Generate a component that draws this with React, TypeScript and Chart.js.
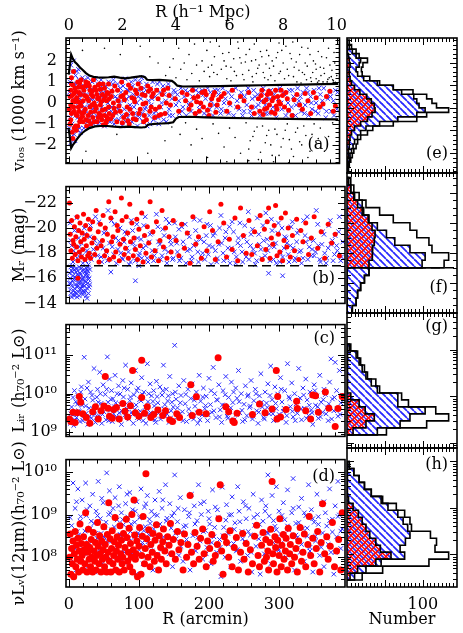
import React, { useEffect, useRef } from "react";
import { Chart, registerables } from "chart.js";

Chart.register(...registerables);

type P = [number, number];

/* ---------------- shared axis values ---------------- */
const X_MIN = -4; // arcmin
const X_MAX = 394;
const ARCMIN_PER_MPC = 39;
const N_MAX = 145;
const arcminTicks = [0, 100, 200, 300];
const mpcTicks = [0, 2, 4, 6, 8, 10];
const numberTicks = [100];

/* ---------------- panel (a): v_los vs R ---------------- */
const vTicks = [-2, -1, 0, 1, 2];
const aEnvUpper: P[] = [[0,1.35],[2,1.9],[3.5,2.3],[6,2.1],[9,1.95],[12,1.85],[16,1.7],[20,1.58],[25,1.42],[30,1.3],[36,1.24],[42,1.22],[50,1.2],[58,1.22],[66,1.25],[74,1.2],[82,1.17],[90,1.2],[98,1.24],[106,1.27],[111,1.22],[114,1.1],[122,1.08],[132,1.1],[142,1.07],[150,1.05],[154,0.95],[158,0.82],[166,0.78],[190,0.79],[220,0.8],[250,0.82],[280,0.84],[310,0.86],[340,0.87],[370,0.89],[392,0.91]];
const aEnvLower: P[] = [[0,-1.25],[2,-1.75],[3.5,-2.15],[6,-2.0],[9,-1.88],[12,-1.72],[16,-1.55],[20,-1.42],[25,-1.3],[30,-1.2],[38,-1.12],[46,-1.1],[56,-1.1],[66,-1.13],[76,-1.15],[86,-1.13],[96,-1.15],[106,-1.17],[112,-1.15],[115,-1.04],[125,-1.0],[135,-0.98],[145,-0.96],[152,-0.92],[156,-0.75],[160,-0.67],[175,-0.66],[200,-0.69],[230,-0.71],[260,-0.73],[290,-0.75],[320,-0.76],[350,-0.77],[392,-0.78]];
const aRed: P[] = [[2,.3],[3,-.8],[4,.9],[5,-1.4],[6,.1],[7,1.5],[8,-.4],[9,.7],[10,-1.1],[11,.2],[12,-.6],[13,1.0],[14,-.2],[15,.5],[16,-.9],[17,0],[18,1.1],[19,-.5],[3,-.1],[6,-1.7],[4,1.2],[8,.45],[11,-1.3],[14,.75],[17,-.75],[21,-.9],[22,.6],[24,-.3],[25,1.0],[26,-1.1],[27,.2],[28,-.6],[30,.8],[31,-.2],[32,-1.0],[33,.4],[35,-.7],[36,1.1],[37,0],[38,-.4],[40,.6],[41,-.9],[42,.2],[44,-.5],[45,.9],[46,-.1],[48,-.8],[49,.4],[50,-1.05],[52,.7],[53,-.3],[55,.1],[56,-.7],[58,.9],[59,-.5],[23,.35],[29,-.85],[34,.55],[39,-.15],[43,.85],[47,-.6],[51,.15],[54,-.95],[57,.45],[62,.3],[64,-.6],[67,.8],[70,-.9],[72,.1],[75,-.4],[77,1.0],[80,-.7],[83,.5],[85,-.2],[88,-1.0],[90,.7],[93,-.5],[95,.2],[98,-.8],[101,.9],[104,-.3],[107,.4],[110,-.6],[112,0],[115,.8],[118,-.4],[121,.3],[125,-.7],[128,.6],[132,-.2],[136,.4],[140,-.5],[144,.7],[148,-.1],[66,-.25],[79,.35],[86,-.85],[97,.6],[109,-.9],[119,.65],[131,-.6],[155,.2],[160,-.4],[165,.5],[170,.1],[175,-.3],[180,.6],[184,-.5],[188,.3],[192,0],[196,-.2],[200,.4],[204,-.6],[208,.2],[212,.5],[216,-.1],[222,.3],[230,-.4],[238,.6],[246,-.2],[255,.1],[262,.5],[270,-.5],[276,.2],[281,.6],[285,-.3],[289,.4],[292,-.1],[296,.1],[300,-.5],[304,.3],[309,.6],[314,-.2],[318,.2],[325,-.6],[332,.4],[340,-.3],[348,.1],[356,.5],[365,-.2],[375,.3],[385,-.4],[186,.05],[198,.55],[202,-.35],[283,-.55],[287,.15],[294,.45],[302,-.15],[306,.05],[1,-.3],[2,-1.0],[3,.6],[4,-.5],[5,.35],[6,.85],[7,-.2],[8,-1.2],[9,.05],[10,.55],[11,-.55],[12,.25],[13,-1.1],[14,.05],[15,-.4],[16,.95],[17,.4],[18,-.15],[19,.75],[20,-.65],[21,.1],[22,-.45],[24,.8],[25,-.8],[26,.3],[28,.95],[29,.1],[31,.6],[32,-.45],[34,-.1],[35,.3],[37,-.9],[38,.75],[40,-.25],[41,.4],[43,-.7],[44,.25],[46,.65],[47,.05],[49,-.35],[50,.9],[52,-.6],[53,.3],[55,-.85],[56,.5],[58,-.2],[59,.2],[61,-.75],[63,.55],[65,0],[68,-.45],[71,.6],[73,-.15],[76,.3],[78,-.95],[81,.15],[84,-.55],[87,.85],[89,-.3],[92,.25],[94,-.75],[96,.05],[99,.45],[102,-.5],[105,.7],[108,-.05],[111,.35],[113,-.8],[116,.55],[120,-.2],[123,.45],[126,-.3],[130,.2],[134,-.55],[138,.6],[142,0],[146,.35],[172,.4],[178,-.1],[182,.25],[190,-.4],[194,.5],[206,-.1],[210,.35],[214,-.45],[218,.15],[226,.45],[234,0],[250,.3],[266,-.2],[278,-.4],[280,.35],[284,.05],[288,-.25],[291,.55],[295,-.45],[298,.25],[301,.6],[303,-.3],[308,-.05],[311,.35],[316,.5],[320,-.35],[328,.15],[336,-.1],[344,.45],[352,-.5],[360,.25],[370,-.05],[380,.55],[388,-.15]];
const aBlue: P[] = [[1,-1.2],[2,1.0],[3,1.8],[4,-1.6],[5,.6],[6,-.5],[7,2.0],[8,.9],[9,-1.8],[10,1.3],[11,-.2],[12,-1.3],[13,.4],[14,1.6],[15,-.8],[16,.2],[17,-1.4],[18,.8],[19,-.1],[20,1.2],[21,.4],[22,-1.2],[23,1.1],[24,-.5],[26,.7],[27,-.9],[28,1.2],[29,-.1],[30,-1.1],[31,.5],[33,-.6],[34,1.0],[35,.2],[36,-1.0],[37,.6],[38,-.2],[39,1.15],[40,-.6],[42,.9],[43,-1.0],[44,.1],[45,-.4],[47,1.1],[48,.3],[49,-.7],[51,.5],[52,-1.1],[54,.8],[55,-.4],[57,0],[58,1.0],[60,-.9],[61,.6],[63,-.2],[65,1.1],[66,-1.0],[68,.3],[69,-.5],[71,.9],[73,-.8],[74,0],[76,.5],[78,-1.1],[79,.8],[81,-.3],[82,1.15],[84,.2],[86,-.7],[87,.6],[89,-.1],[91,1.0],[92,-.9],[94,.4],[96,-.5],[97,1.1],[99,0],[100,-1.1],[102,.6],[103,-.7],[105,.2],[106,1.2],[108,-.9],[109,.5],[111,-.3],[113,.9],[114,-1.1],[116,.1],[117,-.6],[119,.7],[120,-.1],[122,1.0],[123,-.8],[126,.3],[127,-.4],[129,.9],[131,-1.0],[133,.5],[134,-.2],[137,.8],[138,-.8],[141,.1],[143,-.5],[145,.9],[146,-.3],[149,.4],[151,-.6],[153,.6],[156,-.1],[158,.4],[161,-.5],[163,.7],[166,-.2],[168,.3],[171,-.6],[173,.5],[176,0],[178,-.4],[181,.7],[183,.2],[186,-.6],[189,.5],[191,-.1],[194,.6],[197,-.5],[199,.2],[202,.7],[205,-.3],[207,.1],[210,-.6],[213,.6],[215,-.2],[218,.4],[221,-.5],[224,.7],[226,0],[229,-.4],[232,.5],[235,-.1],[237,.3],[240,-.6],[243,.7],[245,.1],[248,-.3],[251,.5],[253,-.6],[256,.3],[259,-.1],[261,.7],[264,-.4],[267,.2],[269,.6],[272,-.2],[275,.4],[278,-.6],[280,.1],[283,.7],[286,-.1],[288,.3],[291,-.5],[294,.6],[297,-.2],[299,.4],[302,-.7],[305,.2],[307,.7],[310,-.3],[313,.5],[316,-.6],[319,0],[321,.6],[324,-.2],[327,.3],[330,-.6],[333,.7],[335,.1],[338,-.4],[341,.5],[344,-.1],[346,.7],[349,-.6],[352,.3],[354,-.3],[357,.6],[360,0],[363,-.5],[366,.4],[368,-.2],[371,.7],[374,-.7],[377,.2],[380,.5],[382,-.4],[385,.1],[388,.6],[390,-.3],[1,.5],[2,-.7],[3,-1.9],[4,.3],[5,-1.0],[6,1.5],[7,-.3],[8,-1.5],[9,.1],[10,-.6],[11,.9],[12,1.5],[13,-.7],[14,0],[15,1.1],[16,-1.2],[18,-.4],[19,.5],[21,-.6],[23,-.2],[25,.4],[27,.9],[29,-.5],[31,-.8],[32,.2],[34,-.3],[36,.6],[39,-.8],[41,.3],[44,-.9],[46,.5],[48,-.2],[50,.7],[53,.1],[56,-.6],[59,.4],[62,-.4],[64,.9],[67,-.8],[70,.2],[72,-.3],[75,.7],[77,-.6],[80,.1],[83,-.9],[85,.6],[88,.3],[90,-.5],[93,.8],[95,-.2],[98,-.7],[101,.3],[104,1.0],[107,-.5],[110,.7],[112,-.2],[115,.5],[118,-1.0],[121,.2],[124,-.5],[128,.6],[130,-.7],[132,1.0],[135,0],[139,.4],[142,-.9],[144,.7],[147,-.6],[150,.2],[155,.5],[160,.1],[165,-.4],[170,.6],[175,-.1],[180,.3],[185,.6],[190,-.3],[196,.4],[201,-.6],[206,.5],[212,-.1],[217,.6],[222,-.3],[228,.2],[233,-.5],[239,.6],[244,-.2],[250,.3],[255,-.4],[260,.5],[266,-.6],[271,.3],[276,-.1],[282,.5],[287,-.5],[293,.2],[298,-.4],[303,.6],[309,0],[314,.4],[320,-.4],[325,.6],[331,-.1],[337,.3],[343,-.5],[348,.5],[353,0],[359,-.4],[364,.7],[369,.1],[375,-.4],[381,.3],[386,-.6],[391,.5]];
const aBlack: P[] = [[20,2.5],[52,2.6],[75,2.3],[104,2.7],[118,2.2],[130,1.9],[141,1.3],[147,1.7],[152,2.1],[156,1.2],[160,2.6],[163,1.6],[168,1.9],[172,1.1],[175,2.3],[179,1.4],[183,2.8],[186,1.8],[190,1.05],[194,2.0],[197,1.5],[201,2.5],[205,1.25],[208,1.8],[212,2.2],[216,1.35],[219,2.7],[222,1.6],[226,2.0],[230,1.15],[233,2.4],[236,1.7],[240,2.1],[244,1.3],[247,2.6],[251,1.9],[255,1.1],[258,2.3],[262,1.55],[266,2.0],[270,2.8],[273,1.4],[277,1.8],[281,2.2],[285,1.2],[288,2.5],[292,1.65],[296,2.0],[300,1.05],[304,2.4],[308,1.5],[312,1.9],[316,2.7],[320,1.3],[324,2.1],[328,1.7],[332,1.0],[336,2.3],[340,1.45],[344,1.9],[348,2.6],[352,1.2],[356,2.0],[360,1.6],[364,1.05],[368,2.2],[372,1.4],[376,1.0],[380,1.8],[384,1.1],[388,0.98],[382,1.25],[370,1.0],[360,1.15],[386,2.4],[378,2.6],[366,1.7],[346,1.1],[326,2.9],[306,2.85],[246,2.9],[206,2.9],[236,1.05],[268,1.0],[290,1.1],[203,1.7],[211,1.45],[224,2.35],[229,1.75],[241,1.5],[249,2.15],[253,1.35],[257,1.95],[263,2.55],[267,1.25],[272,2.05],[275,1.65],[279,2.45],[283,1.45],[287,1.85],[291,2.25],[294,1.3],[298,1.75],[302,2.15],[306,1.4],[310,2.5],[314,1.15],[318,1.6],[322,2.35],[327,1.25],[331,1.95],[335,1.55],[339,2.65],[343,1.35],[347,1.75],[351,2.3],[355,1.45],[359,1.85],[363,2.45],[367,1.3],[371,1.65],[375,2.15],[379,1.2],[383,1.55],[387,1.9],[390,1.3],[385,1.05],[377,1.12],[362,0.98],[353,1.02],[338,0.95],[25,-2.3],[70,-1.5],[115,-2.4],[140,-1.8],[150,-1.15],[162,-1.5],[170,-0.95],[178,-2.0],[186,-1.25],[194,-1.7],[202,-2.6],[210,-1.0],[218,-1.45],[226,-2.1],[234,-1.2],[242,-1.65],[250,-2.4],[258,-0.95],[264,-1.8],[270,-1.35],[276,-2.7],[282,-1.1],[288,-1.55],[294,-2.0],[300,-1.25],[306,-2.5],[312,-1.7],[318,-1.0],[324,-2.2],[330,-1.4],[336,-1.85],[342,-1.1],[348,-2.6],[354,-1.5],[360,-1.9],[366,-1.2],[372,-2.3],[378,-1.6],[384,-0.95],[298,-2.8],[262,-2.75],[320,-2.85],[230,-2.8],[262,-2.2],[268,-1.6],[274,-1.15],[279,-2.35],[286,-1.9],[291,-1.3],[296,-2.5],[303,-1.5],[309,-2.1],[315,-1.3],[321,-1.75],[327,-2.55],[333,-1.2],[339,-2.0],[345,-1.55],[351,-2.3],[357,-1.0],[363,-1.7]];

/* ---------------- panel (b): M_r vs R ---------------- */
const magTicks = [-22, -20, -18, -16, -14];
const magLimit = -17;
const bRed: P[] = [[1,-22.0],[2,-19.5],[3,-18.2],[4,-20.6],[5,-17.6],[6,-19.0],[7,-18.7],[8,-20.1],[9,-17.9],[10,-19.3],[11,-18.5],[12,-20.9],[13,-17.4],[14,-19.8],[15,-18.1],[16,-20.4],[17,-18.9],[18,-17.7],[19,-19.6],[20,-18.3],[21,-21.1],[22,-19.1],[23,-17.5],[24,-20.2],[25,-18.6],[26,-19.4],[27,-17.8],[28,-20.7],[29,-18.0],[30,-19.9],[13,-16.0],[31,-17.6],[33,-18.8],[34,-20.5],[36,-19.2],[37,-17.9],[39,-21.4],[40,-18.4],[42,-19.7],[43,-17.3],[45,-20.3],[46,-18.6],[48,-19.0],[49,-21.0],[51,-17.8],[52,-20.0],[54,-18.2],[55,-19.5],[57,-22.1],[58,-17.5],[60,-20.8],[61,-18.9],[63,-19.3],[64,-17.7],[66,-21.3],[67,-18.1],[69,-20.2],[70,-19.8],[72,-17.4],[73,-18.7],[75,-22.4],[76,-20.6],[78,-19.1],[79,-17.9],[81,-18.4],[82,-20.9],[84,-19.6],[85,-17.6],[87,-21.9],[88,-18.9],[90,-20.4],[92,-17.8],[93,-19.2],[95,-18.3],[97,-20.7],[98,-17.5],[100,-19.9],[102,-18.6],[104,-21.2],[106,-17.3],[108,-19.4],[110,-18.0],[112,-20.1],[114,-18.8],[116,-22.1],[118,-17.7],[120,-19.7],[123,-18.2],[125,-20.5],[128,-17.4],[130,-19.0],[133,-21.4],[135,-18.5],[138,-20.0],[140,-17.6],[143,-19.3],[146,-18.1],[149,-20.6],[153,-19.0],[157,-17.8],[161,-20.3],[165,-18.4],[169,-19.6],[173,-17.2],[177,-20.9],[181,-18.7],[185,-19.3],[189,-17.6],[193,-20.1],[197,-18.2],[201,-21.3],[205,-19.8],[209,-17.5],[213,-18.9],[217,-21.9],[221,-20.4],[225,-17.7],[229,-19.1],[233,-18.3],[237,-20.8],[241,-17.4],[245,-21.6],[249,-19.4],[253,-18.0],[257,-20.6],[261,-17.9],[265,-19.7],[269,-18.6],[273,-21.0],[276,-17.5],[279,-19.9],[281,-18.3],[283,-20.5],[285,-21.6],[287,-17.6],[289,-19.2],[291,-18.7],[293,-20.2],[295,-21.8],[297,-17.8],[299,-19.5],[301,-18.1],[303,-20.8],[305,-17.4],[307,-19.0],[309,-21.2],[311,-18.5],[313,-20.0],[316,-17.7],[319,-19.4],[322,-18.2],[325,-20.7],[328,-17.5],[331,-19.8],[334,-18.9],[338,-20.4],[342,-17.9],[346,-19.2],[350,-20.9],[355,-18.4],[360,-19.7],[365,-17.6],[370,-20.3],[375,-18.8],[380,-19.5],[386,-17.8]];
const bBlue: P[] = [[1,-16.4],[2,-15.1],[3,-16.9],[4,-14.5],[5,-15.8],[6,-16.2],[7,-15.0],[8,-16.7],[9,-15.5],[10,-14.8],[11,-16.0],[12,-15.3],[13,-16.6],[14,-14.9],[15,-15.7],[16,-16.4],[17,-15.2],[18,-16.8],[19,-15.9],[20,-14.7],[21,-16.1],[22,-15.4],[23,-16.5],[24,-15.0],[25,-16.3],[26,-14.4],[27,-15.6],[28,-16.9],[29,-15.3],[2,-16.0],[4,-15.4],[6,-16.8],[8,-14.6],[10,-15.9],[12,-16.3],[14,-15.6],[16,-15.1],[18,-14.9],[20,-16.0],[22,-16.7],[24,-15.7],[26,-15.2],[28,-14.8],[5,-17.0],[15,-16.9],[25,-16.8],[3,-15.6],[9,-16.1],[19,-15.4],[27,-16.2],[1,-15.6],[3,-14.8],[5,-16.5],[7,-15.9],[9,-14.9],[11,-16.8],[13,-15.4],[15,-14.6],[17,-16.3],[19,-16.6],[21,-15.0],[23,-15.8],[25,-14.6],[27,-16.6],[29,-16.0],[4,-16.6],[8,-15.2],[12,-14.5],[16,-16.0],[20,-15.5],[24,-16.2],[28,-15.9],[6,-14.7],[10,-16.5],[14,-16.2],[18,-15.7],[22,-14.9],[26,-16.4],[30,-15.5],[30,-16.7],[60,-16.5],[95,-15.8],[285,-16.4],[305,-16.2],[100,-17.0],[2,-20.4],[4,-18.6],[6,-17.3],[8,-19.8],[10,-18.0],[12,-17.6],[14,-19.2],[16,-17.9],[18,-18.8],[20,-17.2],[22,-20.0],[24,-17.4],[26,-18.2],[28,-17.1],[30,-19.3],[32,-17.5],[35,-18.3],[38,-20.9],[41,-17.8],[44,-18.9],[47,-17.3],[50,-19.6],[53,-18.1],[56,-21.4],[59,-17.6],[62,-18.5],[65,-20.3],[68,-17.2],[71,-19.0],[74,-18.0],[77,-17.5],[80,-19.7],[83,-18.4],[86,-17.1],[89,-20.6],[92,-18.8],[95,-17.4],[98,-19.2],[101,-18.0],[104,-17.6],[107,-20.2],[110,-18.6],[113,-17.3],[116,-19.5],[119,-18.2],[122,-17.8],[125,-21.1],[128,-18.9],[131,-17.5],[134,-19.9],[137,-18.3],[140,-17.2],[143,-20.4],[146,-18.7],[149,-17.6],[152,-19.3],[155,-18.1],[158,-17.4],[161,-20.1],[164,-18.5],[167,-17.2],[170,-19.6],[173,-18.3],[176,-17.7],[179,-20.7],[182,-18.9],[185,-17.3],[188,-19.1],[191,-18.0],[194,-17.5],[197,-20.3],[200,-18.6],[203,-17.1],[206,-19.4],[209,-18.2],[212,-17.6],[215,-20.0],[218,-18.8],[221,-17.4],[224,-19.7],[227,-18.4],[230,-17.2],[233,-20.5],[236,-18.1],[239,-17.7],[242,-19.2],[245,-18.6],[248,-17.3],[251,-20.2],[254,-18.9],[257,-17.5],[260,-19.5],[263,-18.3],[266,-17.1],[269,-20.8],[272,-18.7],[275,-17.6],[278,-19.0],[281,-21.2],[284,-18.2],[287,-17.4],[290,-19.8],[293,-18.5],[296,-17.2],[299,-20.4],[302,-18.0],[305,-17.7],[308,-19.3],[311,-18.8],[314,-17.3],[317,-20.1],[320,-18.4],[323,-17.6],[326,-19.6],[329,-18.1],[332,-17.2],[335,-20.6],[338,-18.9],[341,-17.5],[344,-19.1],[347,-18.3],[350,-17.8],[353,-21.4],[356,-18.6],[359,-17.3],[362,-19.7],[365,-18.0],[368,-17.6],[371,-20.2],[374,-18.7],[377,-17.4],[380,-19.4],[383,-18.2],[386,-20.9],[389,-17.7],[3,-19.0],[7,-18.2],[11,-20.8],[15,-18.5],[19,-17.8],[23,-19.5],[27,-18.0],[31,-20.2],[34,-17.9],[37,-19.0],[40,-18.6],[43,-20.5],[46,-17.7],[49,-18.4],[52,-19.9],[55,-17.4],[58,-18.8],[61,-20.6],[64,-17.9],[67,-19.2],[70,-18.3],[73,-20.0],[76,-17.6],[79,-18.9],[82,-19.5],[85,-18.1],[88,-17.3],[91,-19.8],[94,-18.5],[97,-20.3],[100,-17.8],[103,-19.1],[106,-18.4],[109,-20.9],[112,-17.6],[115,-18.9],[118,-19.6],[121,-17.4],[124,-18.2],[127,-20.1],[130,-18.7],[133,-17.8],[136,-19.4],[139,-20.7],[142,-18.1],[145,-19.0],[148,-17.5],[151,-20.4],[154,-18.8],[157,-19.9],[160,-17.6],[163,-18.9],[166,-20.3],[169,-18.2],[172,-19.3],[175,-17.4],[178,-18.6],[181,-19.8],[184,-18.1],[187,-20.6],[190,-17.7],[193,-18.9],[196,-19.4],[199,-17.9],[202,-20.2],[205,-18.5],[208,-19.6],[211,-17.3],[214,-18.7],[217,-21.0],[220,-18.0],[223,-19.2],[226,-17.6],[229,-20.1],[232,-18.4],[235,-19.7],[238,-17.2],[241,-18.8],[244,-20.4],[247,-18.1],[250,-19.3],[253,-17.7],[256,-21.3],[259,-18.6],[262,-19.9],[265,-18.0],[268,-17.4],[271,-19.5],[274,-18.3],[277,-20.2],[280,-17.8],[283,-19.1],[286,-18.6],[289,-20.7],[292,-17.5],[295,-18.8],[298,-19.6],[301,-17.3],[304,-20.0],[307,-18.4],[310,-19.2],[313,-17.9],[316,-18.6],[319,-20.5],[322,-17.4],[325,-18.9],[328,-19.8],[331,-18.2],[334,-17.6],[337,-19.4],[340,-20.9],[343,-18.5],[346,-17.8],[349,-19.0],[352,-18.1],[355,-20.3],[358,-17.5],[361,-18.7],[364,-19.5],[367,-17.2],[370,-18.4],[373,-20.6],[376,-19.0],[379,-17.9],[382,-18.6],[385,-19.7],[388,-17.4],[391,-18.9]];

/* ---------------- panel (c): L_IR (units of 1e9 L_sun) ---------------- */
const lirTicks = [1e9, 1e10, 1e11];
const cRed: P[] = [[1,2.2],[3,1.9],[6,3.3],[9,1.8],[12,3.2],[15,8.5],[17,6.0],[20,3.0],[25,2.4],[30,1.7],[34,3.4],[38,4.6],[42,2.2],[46,3.6],[50,4.8],[52,28],[56,4.2],[58,2.6],[62,2.3],[64,3.9],[68,4.4],[72,2.2],[77,5.6],[80,3.5],[84,2.5],[88,4.9],[91,40],[95,3.2],[100,2.6],[104,74],[104,8.0],[108,3.1],[112,4.6],[117,2.4],[121,2.9],[127,3.8],[134,2.7],[138,3.6],[144,2.1],[148,1.9],[154,3.0],[158,2.4],[174,17],[176,2.7],[182,8.3],[186,3.3],[196,3.0],[213,85],[224,4.6],[228,3.4],[234,1.95],[236,1.8],[240,3.1],[262,2.9],[272,5.4],[280,3.2],[290,4.0],[296,40],[298,8.4],[297,2.2],[302,2.5],[310,3.9],[325,6.4],[326,4.1],[338,3.6],[345,2.2],[348,9.3],[352,8.8],[356,3.3],[366,11],[371,4.2],[380,1.4],[384,4.1],[390,8.4]];
const cBlue: P[] = [[2,1.7],[4,4.5],[5,2.9],[7,1.5],[8,12],[10,6.2],[11,2.4],[13,9.0],[14,3.6],[16,1.9],[18,15],[19,5.0],[21,2.6],[22,88],[23,7.3],[25,3.1],[27,1.6],[28,20],[29,4.2],[31,11],[32,2.3],[34,6.8],[36,45],[37,3.0],[38,1.8],[40,8.1],[41,13],[43,2.7],[44,36],[46,5.6],[47,1.7],[49,17],[50,3.4],[52,9.6],[53,2.1],[55,90],[56,6.0],[58,24],[59,3.7],[61,12],[62,1.9],[63,7.4],[65,4.6],[66,30],[68,2.5],[69,10],[71,16],[72,3.2],[74,5.3],[75,1.6],[77,22],[78,8.2],[80,2.8],[81,55],[83,4.0],[84,13],[86,2.2],[87,6.6],[89,19],[90,3.3],[92,1.7],[93,9.4],[95,40],[96,5.1],[98,2.4],[99,14],[101,7.0],[102,3.5],[104,26],[106,2.0],[107,11],[109,4.4],[110,1.7],[112,60],[113,6.2],[115,3.0],[116,18],[118,8.8],[119,2.3],[121,12],[122,4.8],[124,1.8],[125,21],[127,5.8],[128,3.1],[130,15],[131,2.2],[133,9.2],[135,55],[136,4.0],[138,2.6],[139,13],[141,6.5],[143,1.8],[144,28],[146,3.6],[148,10],[150,2.1],[151,180],[153,7.2],[155,4.3],[157,16],[158,2.5],[160,9.0],[162,3.4],[164,22],[166,5.5],[168,1.9],[170,13],[172,3.0],[174,7.5],[176,18],[178,2.2],[180,4.7],[182,11],[184,1.7],[186,30],[188,6.4],[190,2.8],[192,14],[194,4.1],[196,8.6],[198,2.0],[200,25],[202,5.2],[204,3.3],[206,48],[208,10],[210,2.4],[212,6.8],[214,17],[216,3.8],[218,1.8],[220,12],[222,4.9],[224,28],[226,2.6],[228,8.0],[230,3.4],[232,20],[234,5.9],[236,2.1],[238,14],[240,7.6],[242,40],[244,3.2],[246,10],[248,1.9],[250,5.3],[252,16],[254,2.7],[256,9.3],[258,4.4],[260,22],[262,2.2],[264,6.6],[266,13],[268,3.6],[270,1.7],[272,8.8],[274,33],[276,4.5],[278,2.4],[280,11],[282,5.7],[284,18],[286,3.0],[288,52],[290,7.0],[292,2.0],[294,15],[296,4.1],[298,9.8],[300,2.9],[302,26],[304,6.1],[306,3.5],[308,12],[310,1.8],[312,60],[314,8.3],[316,4.6],[318,19],[320,2.5],[322,10],[324,5.4],[326,3.1],[328,45],[330,7.7],[332,2.1],[334,14],[336,4.2],[338,24],[340,6.9],[342,2.7],[344,11],[346,3.8],[348,1.6],[350,17],[352,5.0],[354,8.7],[356,2.3],[358,30],[360,6.0],[362,3.3],[364,13],[366,9.5],[368,4.4],[370,2.0],[372,20],[374,80],[376,7.3],[378,3.6],[380,65],[382,12],[384,2.6],[386,40],[388,5.8],[390,9.0],[3,3.0],[6,8.0],[9,2.1],[12,5.3],[15,3.4],[17,11],[20,2.0],[24,4.8],[26,14],[30,2.6],[33,9.0],[35,3.9],[39,2.4],[42,6.0],[45,10],[48,2.9],[51,4.4],[54,13],[57,2.0],[60,7.1],[64,3.0],[67,5.8],[70,2.2],[73,9.8],[76,3.5],[79,14],[82,2.6],[85,5.0],[88,8.2],[91,2.9],[94,3.9],[97,12],[100,2.2],[103,6.5],[105,9.5],[108,2.8],[111,4.1],[114,10],[117,3.2],[120,6.3],[123,2.1],[126,8.4],[129,4.0],[132,2.6],[134,12],[137,5.2],[140,3.0],[142,8.8],[145,2.3],[147,6.0],[149,4.5],[152,11],[156,2.9],[159,5.8],[163,2.0],[167,9.6],[171,4.0],[175,2.4],[179,6.8],[183,3.2],[187,2.1],[191,8.2],[195,4.9],[199,2.8],[203,12],[207,3.6],[211,7.0],[215,2.5],[219,5.1],[223,9.4],[227,2.3],[231,4.3],[235,11],[239,2.9],[243,6.2],[247,3.7],[251,2.1],[255,8.6],[259,4.8],[263,2.6],[267,10],[271,3.3],[275,6.0],[279,2.2],[283,4.4],[287,9.0],[291,3.0],[295,5.6],[299,2.4],[303,13],[307,4.2],[311,2.7],[315,7.4],[319,3.5],[323,2.0],[327,6.3],[331,4.0],[335,9.2],[339,2.3],[343,5.0],[347,3.2],[351,12],[355,4.6],[359,2.5],[363,7.0],[367,3.0],[371,5.5],[375,2.2],[379,8.0],[383,4.1],[387,2.9]];

/* ---------------- panel (d): nu L_nu(12um) (units of 1e8 L_sun) ---------------- */
const l12Ticks = [1e8, 1e9, 1e10];
const dRed: P[] = [[1,1.0],[2,3.5],[3,0.4],[4,1.6],[5,0.7],[6,2.4],[7,0.35],[8,1.2],[9,4.0],[10,0.6],[11,1.9],[12,0.9],[13,2.8],[14,0.45],[15,1.4],[16,6.0],[17,0.8],[18,2.1],[19,1.1],[20,0.5],[21,3.0],[22,1.5],[23,0.7],[24,11],[25,2.0],[26,0.45],[27,1.3],[28,4.5],[29,0.9],[30,1.7],[31,0.6],[32,2.6],[33,1.0],[34,0.45],[35,3.8],[36,1.4],[37,0.8],[38,2.2],[39,0.5],[40,1.1],[41,6.5],[42,1.8],[43,0.7],[44,3.2],[45,1.2],[46,0.45],[47,2.4],[48,0.9],[49,1.5],[50,5.2],[51,0.6],[52,2.0],[53,1.0],[54,0.45],[55,3.4],[56,1.3],[57,19],[58,0.8],[59,2.7],[60,0.45],[61,1.6],[62,4.2],[63,0.7],[64,1.1],[65,2.3],[66,8.5],[67,0.5],[68,1.4],[69,3.0],[70,0.9],[71,1.9],[72,0.45],[73,5.5],[74,1.2],[75,2.5],[76,0.7],[77,1.0],[78,3.6],[79,0.5],[80,1.7],[82,7.8],[83,2.9],[84,0.8],[85,1.3],[86,4.8],[87,0.6],[88,2.1],[89,1.0],[90,10],[91,0.45],[92,1.5],[93,22],[94,3.3],[95,0.9],[96,1.2],[97,2.4],[98,0.35],[100,1.8],[101,5.0],[103,0.4],[104,1.1],[105,3.1],[106,9.0],[108,0.7],[109,1.6],[110,91],[111,2.7],[113,1.0],[114,4.4],[116,0.6],[117,2.0],[119,1.3],[120,3.6],[122,0.8],[123,2.5],[125,5.8],[126,1.1],[128,0.5],[129,3.2],[131,1.7],[132,0.9],[134,2.3],[135,4.6],[137,1.4],[139,0.7],[141,3.0],[143,1.9],[145,6.2],[147,1.2],[149,2.6],[152,0.9],[155,4.0],[157,1.5],[160,2.2],[163,0.5],[165,3.5],[168,1.0],[170,2.0],[173,28],[175,1.3],[178,0.7],[180,3.8],[183,1.8],[186,0.9],[188,2.8],[191,4.6],[193,1.2],[196,0.6],[198,2.4],[201,1.6],[204,3.4],[206,0.8],[209,1.1],[212,2.0],[214,8.0],[216,50],[218,1.4],[220,0.4],[222,3.0],[225,2.2],[228,1.0],[230,4.2],[233,0.6],[236,1.7],[239,2.9],[242,0.5],[245,1.3],[248,3.6],[250,0.9],[253,2.1],[256,0.45],[259,1.5],[262,0.7],[265,3.1],[268,5.6],[270,1.1],[272,0.6],[275,1.9],[277,3.8],[279,0.8],[281,2.6],[282,1.0],[284,1.4],[285,0.5],[287,2.2],[288,4.5],[290,60],[291,1.2],[292,0.7],[294,3.0],[295,1.7],[297,0.45],[298,2.5],[300,1.1],[301,8.0],[303,0.6],[304,1.9],[306,3.4],[307,0.9],[309,1.4],[310,2.8],[312,0.5],[313,4.8],[315,1.2],[316,2.0],[318,0.7],[320,3.2],[322,1.0],[324,1.6],[326,0.45],[328,2.4],[330,5.0],[332,0.8],[334,1.3],[336,3.5],[338,0.6],[341,2.0],[343,9.0],[345,1.1],[348,2.8],[350,0.7],[353,1.6],[355,4.0],[358,0.45],[360,2.2],[362,18],[365,1.2],[368,3.0],[370,0.9],[373,1.8],[376,6.5],[379,0.6],[382,1.4],[385,2.6],[388,0.5],[390,11]];
const dBlue: P[] = [[2,8.5],[3,0.9],[5,2.6],[6,55],[7,1.4],[9,14],[10,0.5],[12,4.0],[13,40],[15,1.9],[16,7.0],[18,0.8],[19,22],[21,3.0],[22,1.2],[24,55],[25,9.5],[27,0.6],[28,2.2],[30,16],[31,4.8],[33,1.0],[34,30],[36,6.2],[37,0.45],[39,12],[40,2.8],[42,60],[43,1.5],[45,8.0],[46,3.6],[48,0.7],[49,19],[51,5.0],[52,1.1],[54,95],[55,2.4],[57,10],[58,36],[60,0.9],[61,4.4],[63,14],[64,1.6],[66,25],[67,0.5],[69,7.5],[70,2.0],[72,45],[73,3.3],[75,11],[76,0.8],[78,5.8],[79,1.3],[81,18],[82,2.6],[84,8.8],[85,0.6],[87,33],[88,4.0],[90,1.2],[91,13],[93,2.9],[94,6.6],[96,0.4],[97,20],[99,3.7],[100,1.5],[102,9.0],[103,40],[105,2.2],[106,0.7],[108,15],[109,5.2],[111,1.0],[112,28],[114,3.4],[115,7.8],[117,1.8],[118,12],[120,0.5],[121,4.6],[123,22],[124,2.5],[126,9.6],[127,1.2],[129,35],[130,6.0],[132,0.9],[133,14],[135,3.0],[137,1.6],[138,50],[140,8.2],[142,2.0],[144,18],[146,4.8],[148,0.6],[150,11],[151,85],[153,2.7],[155,6.8],[157,1.1],[159,25],[161,3.9],[163,0.8],[165,13],[167,5.5],[169,2.1],[171,9.0],[173,0.5],[175,30],[177,3.2],[179,16],[181,1.4],[183,7.2],[185,50],[187,2.4],[189,10],[191,0.9],[193,20],[195,4.2],[197,1.7],[199,12],[201,6.0],[203,0.7],[205,38],[207,3.0],[209,15],[211,1.3],[213,8.5],[215,2.6],[217,0.35],[219,44],[221,5.0],[223,1.0],[225,17],[227,3.6],[229,9.8],[231,0.6],[233,26],[235,2.1],[237,6.4],[239,1.4],[241,45],[243,12],[245,0.8],[247,4.0],[249,20],[251,2.3],[253,8.0],[255,1.1],[257,14],[259,3.3],[261,0.45],[263,30],[265,5.6],[267,1.8],[269,10],[271,2.7],[273,0.4],[275,22],[277,7.0],[279,1.2],[281,16],[283,3.9],[284,85],[286,9.2],[288,0.7],[290,28],[292,2.2],[294,5.3],[296,45],[298,1.5],[300,12],[302,3.5],[304,0.6],[306,19],[308,7.6],[310,1.0],[312,38],[314,4.3],[316,2.0],[318,11],[320,70],[322,0.5],[324,6.2],[326,2.9],[328,15],[330,1.3],[332,24],[334,4.7],[336,0.8],[338,9.4],[340,3.1],[342,50],[344,1.7],[346,13],[348,0.45],[350,6.6],[352,2.4],[354,30],[356,8.9],[358,1.1],[360,18],[362,3.7],[364,0.6],[366,11],[368,5.4],[370,2.0],[372,40],[374,1.3],[376,7.8],[378,0.4],[380,16],[382,3.0],[384,60],[386,9.8],[388,1.6],[390,4.6],[4,5.5],[8,1.7],[11,20],[14,3.3],[17,9.0],[20,1.3],[23,4.1],[26,13],[29,2.0],[32,7.0],[35,1.0],[38,3.6],[41,9.5],[44,1.8],[47,24],[50,3.0],[53,6.6],[56,1.3],[59,11],[62,2.4],[65,5.1],[68,1.0],[71,16],[74,3.4],[77,7.6],[80,1.6],[83,30],[86,2.8],[89,6.0],[92,1.1],[95,12],[98,3.2],[101,8.4],[104,1.9],[107,4.2],[110,18],[113,2.3],[116,6.2],[119,1.4],[122,10],[125,3.0],[128,5.5],[131,1.7],[134,22],[136,2.5],[139,7.0],[143,1.2],[147,9.2],[152,3.6],[156,14],[160,1.8],[164,5.2],[168,2.6],[172,11],[176,1.4],[180,6.0],[184,2.9],[188,18],[192,4.0],[196,1.2],[200,8.0],[204,2.2],[208,5.0],[212,13],[216,1.7],[220,3.2],[224,7.4],[228,2.0],[232,10],[236,4.5],[240,1.5],[244,6.8],[248,2.7],[252,16],[256,4.0],[260,1.3],[264,8.6],[268,3.0],[272,5.9],[276,1.8],[280,12],[284,3.6],[288,2.1],[292,7.2],[296,4.4],[300,1.5],[304,9.5],[308,2.6],[312,5.4],[316,1.2],[320,14],[324,3.3],[328,6.5],[332,2.0],[336,11],[340,4.8],[344,1.4],[348,8.0],[352,3.1],[356,5.9],[360,1.7],[364,20],[368,2.8],[372,7.2],[376,3.9],[380,1.3],[384,9.0],[388,4.1]];

/* ---------------- histograms (e)-(h) ---------------- */
const eCenters = [-2.7,-2.5,-2.3,-2.1,-1.9,-1.7,-1.5,-1.3,-1.1,-0.9,-0.7,-0.5,-0.3,-0.1,0.1,0.3,0.5,0.7,0.9,1.1,1.3,1.5,1.7,1.9,2.1,2.3,2.5,2.7,2.9];
const eAll = [2,3,5,7,9,12,14,18,27,34,61,92,105,134,118,112,105,87,61,43,30,20,19,21,27,16,12,6,3];
const eBlue = [1,2,3,4,6,8,10,14,18,25,43,67,92,103,95,92,88,72,61,40,22,14,12,16,18,12,7,3,1];
const eRed = [0,1,1,2,2,3,3,4,6,10,18,27,33,37,36,32,26,17,10,6,4,3,3,4,3,2,1,1,0];

const fCenters = [-22.75,-22.25,-21.75,-21.25,-20.75,-20.25,-19.75,-19.25,-18.75,-18.25,-17.75,-17.25,-16.75,-16.25,-15.75,-15.25,-14.75,-14.25];
const fAll = [5,9,16,25,43,61,83,92,108,112,134,128,29,23,18,14,12,7];
const fBlue = [2,5,10,20,20,29,40,52,63,83,103,99,29,23,18,14,12,7];
const fRed = [2,5,9,14,22,28,33,37,36,34,33,29,0,1,0,0,0,0];

const gLogCenters = [9.25,9.4,9.55,9.7,9.85,10.0,10.15,10.3,10.45,10.6,10.75,10.9,11.05];
const gAll = [52,105,134,117,81,72,43,38,27,23,18,14,5];
const gBlue = [40,70,83,103,67,67,40,32,25,20,16,12,3];
const gRed = [8,25,36,24,16,5,1,1,1,0,1,1,0];

const hLogCenters = [7.525,7.675,7.825,7.975,8.125,8.275,8.425,8.575,8.725,8.875,9.025,9.175,9.325,9.475,9.625,9.775,9.925];
const hAll = [20,47,108,134,116,118,110,85,83,76,65,47,32,23,16,9,3];
const hBlue = [10,25,45,76,70,77,83,80,74,67,54,45,32,23,16,9,3];
const hRed = [4,14,38,58,44,38,30,25,20,15,8,2,1,1,1,0,0];

/* ---------------- helpers ---------------- */
const FAMILY = "DejaVu Serif";
const FONT = { family: FAMILY, size: 16 };
const INK = "#000";
const RED = "#ff0000";
const BLUE = "#2a2aff";

const SUP: Record<string, string> = { "0": "⁰", "1": "¹", "2": "²", "3": "³", "4": "⁴", "5": "⁵", "6": "⁶", "7": "⁷", "8": "⁸", "9": "⁹", "-": "⁻" };
const pow10 = (v: number) => "10" + String(Math.round(Math.log10(v))).split("").map((c) => SUP[c] ?? c).join("");
const signed = (v: number) => (v < 0 ? "\u2212" + String(-v) : String(v));

function steps(a: number, b: number, s: number, skip: number[] = []) {
  const out: number[] = [];
  for (let k = 0; a + k * s <= b + 1e-9; k++) {
    const v = Math.round((a + k * s) * 1000) / 1000;
    if (!skip.some((m) => Math.abs(m - v) < 1e-6)) out.push(v);
  }
  return out;
}
function logMinor(d0: number, d1: number) {
  const out: number[] = [];
  for (let d = d0; d <= d1; d++) for (let m = 2; m <= 9; m++) out.push(m * Math.pow(10, d));
  return out;
}

const xArcMinor = steps(0, 380, 20, arcminTicks);
const xMpcMinor = steps(0, 10, 0.5, mpcTicks);
const nMajor = [50, 100];
const nMinor = steps(5, 145, 5, nMajor);

type TickSet = { id: string; major: number[]; minor: number[] };
type FrameCfg = { bottom: TickSet; top: TickSet; side: TickSet; label: string; dx: number; from: "top" | "bottom"; dy: number };

function framePlugin(cfg: FrameCfg) {
  return {
    id: "frame",
    afterDraw(chart: any) {
      const ctx: CanvasRenderingContext2D = chart.ctx;
      const A = chart.chartArea;
      ctx.save();
      ctx.strokeStyle = INK;
      ctx.lineWidth = 1;
      const hor = (t: TickSet, y: number, dir: number) => {
        const s = chart.scales[t.id];
        ctx.beginPath();
        const put = (vals: number[], len: number) =>
          vals.forEach((v) => {
            const p = s.getPixelForValue(v);
            if (!isFinite(p) || p < A.left + 1 || p > A.right - 1) return;
            const x = Math.round(p) + 0.5;
            ctx.moveTo(x, y);
            ctx.lineTo(x, y + dir * len);
          });
        put(t.major, 7);
        put(t.minor, 4);
        ctx.stroke();
      };
      const ver = (t: TickSet, x: number, dir: number) => {
        const s = chart.scales[t.id];
        ctx.beginPath();
        const put = (vals: number[], len: number) =>
          vals.forEach((v) => {
            const p = s.getPixelForValue(v);
            if (!isFinite(p) || p < A.top + 1 || p > A.bottom - 1) return;
            const y = Math.round(p) + 0.5;
            ctx.moveTo(x, y);
            ctx.lineTo(x + dir * len, y);
          });
        put(t.major, 7);
        put(t.minor, 4);
        ctx.stroke();
      };
      hor(cfg.bottom, A.bottom, -1);
      hor(cfg.top, A.top, 1);
      ver(cfg.side, A.left, 1);
      ver(cfg.side, A.right, -1);
      ctx.lineWidth = 1.6;
      ctx.strokeRect(A.left, A.top, A.right - A.left, A.bottom - A.top);
      ctx.fillStyle = INK;
      ctx.font = `16px "${FAMILY}"`;
      ctx.textAlign = "right";
      ctx.textBaseline = "middle";
      ctx.fillText(cfg.label, A.right + cfg.dx, cfg.from === "top" ? A.top + cfg.dy : A.bottom + cfg.dy);
      ctx.restore();
    },
  };
}

function hatch(color: string, dirs: string[], shift = 0, size = 7, lw = 1.7) {
  const c = document.createElement("canvas");
  c.width = size;
  c.height = size;
  const g = c.getContext("2d")!;
  g.strokeStyle = color;
  g.lineWidth = lw;
  for (const d of dirs) {
    g.beginPath();
    for (const o of [-2 * size, -size, 0, size]) {
      if (d === "\\") {
        g.moveTo(o + shift, 0);
        g.lineTo(o + shift + size, size);
      } else {
        g.moveTo(o + shift, size);
        g.lineTo(o + shift + size, 0);
      }
    }
    g.stroke();
  }
  return g.createPattern(c, "repeat");
}

const pts = (arr: P[], f = 1) => arr.map(([x, y]) => ({ x, y: y * f }));

type YSpec = {
  type: "linear" | "logarithmic";
  min: number;
  max: number;
  reverse?: boolean;
  major: number[];
  minor: number[];
  fmt: (v: number) => string;
  title: string;
};

type Row = { top: number; height: number; padTop: number; padBottom: number; first?: boolean; last?: boolean };

function baseOptions(padding: any) {
  return {
    animation: false,
    responsive: false,
    maintainAspectRatio: false,
    devicePixelRatio: 1,
    events: [],
    layout: { padding },
    plugins: { legend: { display: false }, tooltip: { enabled: false } },
  };
}

function leftConfig(row: Row, y: YSpec, datasets: any[], label: string, from: "top" | "bottom", dy: number) {
  const scales: any = {
    x: row.last
      ? {
          type: "linear",
          min: X_MIN,
          max: X_MAX,
          position: "bottom",
          grid: { display: false, drawTicks: false },
          border: { display: false },
          afterFit: (s: any) => { s.height = 46; },
          afterBuildTicks: (s: any) => { s.ticks = arcminTicks.map((v) => ({ value: v })); },
          ticks: { padding: 8, maxRotation: 0, autoSkip: false, color: INK, font: FONT },
          title: { display: true, text: "R (arcmin)", color: INK, font: FONT, padding: { top: 0, bottom: 4 } },
        }
      : { type: "linear", min: X_MIN, max: X_MAX, display: false },
    y: {
      type: y.type,
      min: y.min,
      max: y.max,
      reverse: !!y.reverse,
      position: "left",
      grid: { display: false, drawTicks: false },
      border: { display: false },
      afterFit: (s: any) => { s.width = 66; },
      afterBuildTicks: (s: any) => { s.ticks = y.major.map((v) => ({ value: v })); },
      ticks: { padding: 9, autoSkip: false, color: INK, font: FONT, callback: (v: any) => y.fmt(Number(v)) },
      title: { display: true, text: y.title, color: INK, font: FONT, padding: { top: 10, bottom: 0 } },
    },
  };
  if (row.first) {
    scales.x2 = {
      axis: "x",
      type: "linear",
      position: "top",
      min: X_MIN / ARCMIN_PER_MPC,
      max: X_MAX / ARCMIN_PER_MPC,
      grid: { display: false, drawTicks: false },
      border: { display: false },
      afterFit: (s: any) => { s.height = 38; },
      afterBuildTicks: (s: any) => { s.ticks = mpcTicks.map((v) => ({ value: v })); },
      ticks: { padding: 3, maxRotation: 0, autoSkip: false, color: INK, font: FONT },
      title: { display: true, text: "R (h\u207B\u00B9 Mpc)", color: INK, font: FONT, padding: { top: 3, bottom: 0 } },
    };
  }
  const xTicks: TickSet = { id: "x", major: arcminTicks, minor: xArcMinor };
  return {
    type: "scatter",
    data: { datasets },
    options: {
      ...baseOptions({ left: 0, right: 3, top: row.padTop, bottom: row.padBottom }),
      scales,
    },
    plugins: [
      framePlugin({
        bottom: xTicks,
        top: row.first ? { id: "x2", major: mpcTicks, minor: xMpcMinor } : xTicks,
        side: { id: "y", major: y.major, minor: y.minor },
        label,
        dx: -10,
        from,
        dy,
      }),
    ],
  };
}

function stair(centers: number[], counts: number[], log: boolean) {
  const half = (centers[1] - centers[0]) / 2;
  const f = (v: number) => (log ? Math.pow(10, v) : v);
  const out = [{ x: 0, y: f(centers[0] - half) }];
  counts.forEach((c, i) => {
    out.push({ x: c, y: f(centers[i] - half) });
    out.push({ x: c, y: f(centers[i] + half) });
  });
  out.push({ x: 0, y: f(centers[centers.length - 1] + half) });
  return out;
}

function histDatasets(centers: number[], all: number[], blue: number[], red: number[], log: boolean) {
  const f = (v: number) => (log ? Math.pow(10, v) : v);
  const bluePat = hatch(BLUE, ["\\"], 0);
  const redPat = hatch(RED, ["\\", "/"], 3.5, 7, 1.4);
  const outline = (counts: number[], order: number) => ({
    type: "line",
    data: stair(centers, counts, log),
    borderColor: INK,
    borderWidth: 1.6,
    pointRadius: 0,
    tension: 0,
    fill: false,
    order,
  });
  const bars = (counts: number[], pat: any, order: number) => ({
    type: "bar",
    data: counts.map((c, i) => ({ x: c, y: f(centers[i]) })),
    backgroundColor: pat,
    borderWidth: 0,
    grouped: false,
    barPercentage: 1,
    categoryPercentage: 1,
    order,
  });
  return [outline(red, 1), outline(blue, 2), outline(all, 3), bars(red, redPat, 4), bars(blue, bluePat, 5)];
}

function rightConfig(row: Row, y: YSpec, datasets: any[], label: string, from: "top" | "bottom", dy: number) {
  const scales: any = {
    x: row.last
      ? {
          type: "linear",
          min: 0,
          max: N_MAX,
          position: "bottom",
          grid: { display: false, drawTicks: false },
          border: { display: false },
          afterFit: (s: any) => { s.height = 46; },
          afterBuildTicks: (s: any) => { s.ticks = numberTicks.map((v) => ({ value: v })); },
          ticks: { padding: 8, maxRotation: 0, autoSkip: false, color: INK, font: FONT },
          title: { display: true, text: "Number", color: INK, font: FONT, padding: { top: 0, bottom: 4 } },
        }
      : { type: "linear", min: 0, max: N_MAX, display: false },
    y: {
      type: y.type,
      min: y.min,
      max: y.max,
      reverse: !!y.reverse,
      display: false,
      offset: false,
      grid: { offset: false },
    },
  };
  const nTicks: TickSet = { id: "x", major: nMajor, minor: nMinor };
  return {
    type: "bar",
    data: { datasets },
    options: {
      ...baseOptions({ left: 3, right: 6, top: row.padTop, bottom: row.padBottom }),
      indexAxis: "y",
      scales,
    },
    plugins: [
      framePlugin({
        bottom: nTicks,
        top: nTicks,
        side: { id: "y", major: y.major, minor: y.minor },
        label,
        dx: -9,
        from,
        dy,
      }),
    ],
  };
}

/* ---------------- y axis specs ---------------- */
const yA: YSpec = { type: "linear", min: -2.88, max: 3.09, major: vTicks, minor: steps(-2.8, 3.0, 0.2, vTicks), fmt: signed, title: "v\u2097\u2092\u209B (1000 km s\u207B\u00B9)" };
const yB: YSpec = { type: "linear", min: -23.3, max: -14, reverse: true, major: magTicks, minor: steps(-23, -14, 0.5, magTicks), fmt: signed, title: "M\u1D63 (mag)" };
const yC: YSpec = { type: "logarithmic", min: 7.8e8, max: 6.2e11, major: lirTicks, minor: logMinor(8, 11), fmt: pow10, title: "L\u1D62\u1D63 (h\u2087\u2080\u207B\u00B2 L\u2299)" };
const yD: YSpec = { type: "logarithmic", min: 2.0e7, max: 1.95e10, major: l12Ticks, minor: logMinor(7, 10), fmt: pow10, title: "\u03BDL\u1D65(12\u03BCm)(h\u2087\u2080\u207B\u00B2 L\u2299)" };

const rowA: Row = { top: 0, height: 182, padTop: 0, padBottom: 9, first: true };
const rowB: Row = { top: 168, height: 154, padTop: 5, padBottom: 9 };
const rowC: Row = { top: 306, height: 149, padTop: 7, padBottom: 7 };
const rowD: Row = { top: 441, height: 192, padTop: 7, padBottom: 0, last: true };
const rowARight: Row = { top: 31, height: 151, padTop: 7, padBottom: 9, first: true };

const redDots = (data: any[], r: number) => ({ data, pointStyle: "circle", pointRadius: r, backgroundColor: RED, borderWidth: 0 });
const blueX = (data: any[]) => ({ data, pointStyle: "crossRot", pointRadius: 3.2, borderColor: BLUE, borderWidth: 1, backgroundColor: BLUE });

type PanelDef = { left: number; top: number; width: number; height: number; make: () => any };

const PANELS: PanelDef[] = [
  {
    left: 0, top: rowA.top, width: 350, height: rowA.height,
    make: () =>
      leftConfig(rowA, yA, [
        { data: pts(aEnvUpper), showLine: true, borderColor: INK, borderWidth: 2.2, pointRadius: 0 },
        { data: pts(aEnvLower), showLine: true, borderColor: INK, borderWidth: 2.2, pointRadius: 0 },
        redDots(pts(aRed), 2.5),
        blueX(pts(aBlue)),
        { data: pts(aBlack), pointStyle: "circle", pointRadius: 0.8, backgroundColor: INK, borderWidth: 0 },
      ], "(a)", "bottom", -19),
  },
  {
    left: 344, top: rowARight.top, width: 119, height: rowARight.height,
    make: () => rightConfig(rowARight, yA, histDatasets(eCenters, eAll, eBlue, eRed, false), "(e)", "bottom", -19),
  },
  {
    left: 0, top: rowB.top, width: 350, height: rowB.height,
    make: () =>
      leftConfig(rowB, yB, [
        { data: [{ x: X_MIN, y: magLimit }, { x: X_MAX, y: magLimit }], showLine: true, borderColor: INK, borderWidth: 1.5, borderDash: [9, 5], pointRadius: 0 },
        redDots(pts(bRed), 2.5),
        blueX(pts(bBlue)),
      ], "(b)", "bottom", -25),
  },
  {
    left: 344, top: rowB.top, width: 119, height: rowB.height,
    make: () =>
      rightConfig(rowB, yB, [
        { type: "line", data: [{ x: 0, y: magLimit }, { x: N_MAX, y: magLimit }], borderColor: INK, borderWidth: 1.5, borderDash: [9, 5], pointRadius: 0, order: 0 },
        ...histDatasets(fCenters, fAll, fBlue, fRed, false),
      ], "(f)", "bottom", -25),
  },
  {
    left: 0, top: rowC.top, width: 350, height: rowC.height,
    make: () => leftConfig(rowC, yC, [redDots(pts(cRed, 1e9), 3.5), blueX(pts(cBlue, 1e9))], "(c)", "top", 14),
  },
  {
    left: 344, top: rowC.top, width: 119, height: rowC.height,
    make: () => rightConfig(rowC, yC, histDatasets(gLogCenters, gAll, gBlue, gRed, true), "(g)", "top", 14),
  },
  {
    left: 0, top: rowD.top, width: 350, height: rowD.height,
    make: () => leftConfig(rowD, yD, [redDots(pts(dRed, 1e8), 3.5), blueX(pts(dBlue, 1e8))], "(d)", "top", 17),
  },
  {
    left: 344, top: rowD.top, width: 119, height: rowD.height,
    make: () => rightConfig(rowD, yD, histDatasets(hLogCenters, hAll, hBlue, hRed, true), "(h)", "top", 17),
  },
];

export default function App() {
  const refs = useRef<(HTMLCanvasElement | null)[]>([]);
  useEffect(() => {
    const charts = PANELS.map((p, i) => new Chart(refs.current[i] as HTMLCanvasElement, p.make()));
    return () => charts.forEach((c) => c.destroy());
  }, []);
  return (
    <div style={{ position: "absolute", left: 0, top: 0, width: 463, height: 633, background: "#fff", overflow: "hidden" }}>
      {PANELS.map((p, i) => (
        <canvas
          key={i}
          ref={(el) => { refs.current[i] = el; }}
          width={p.width}
          height={p.height}
          style={{ position: "absolute", left: p.left, top: p.top, width: p.width, height: p.height }}
        />
      ))}
    </div>
  );
}
